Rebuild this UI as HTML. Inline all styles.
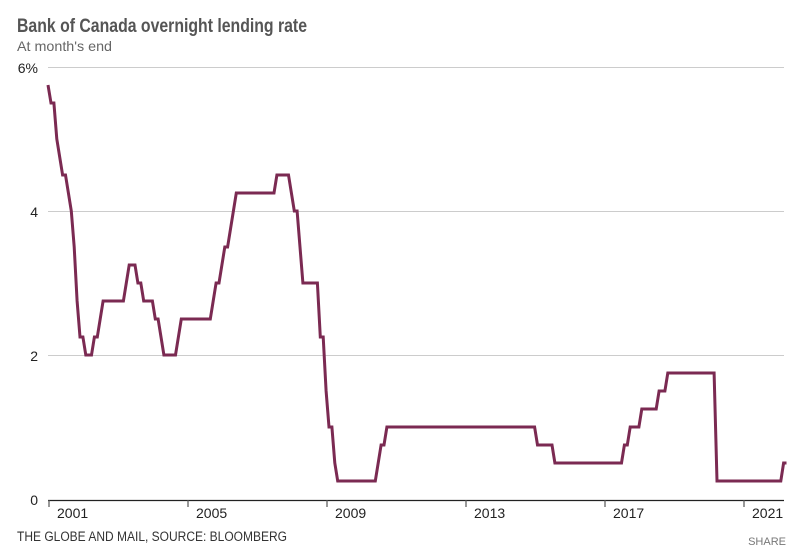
<!DOCTYPE html>
<html><head><meta charset="utf-8"><style>
body{margin:0;background:#fff;width:798px;height:554px;overflow:hidden;font-family:"Liberation Sans",sans-serif}
</style></head><body>
<svg id="c" width="798" height="554" xmlns="http://www.w3.org/2000/svg" font-family="Liberation Sans, sans-serif">
<text x="17" y="32" font-size="19" font-weight="bold" fill="#555" textLength="290" lengthAdjust="spacingAndGlyphs">Bank of Canada overnight lending rate</text>
<text x="17" y="51" font-size="14" fill="#666" textLength="95" lengthAdjust="spacingAndGlyphs">At month's end</text>
<g stroke="#ccc" stroke-width="1">
<line x1="48" y1="67.5" x2="784" y2="67.5"/><line x1="48" y1="211.5" x2="784" y2="211.5"/><line x1="48" y1="355.5" x2="784" y2="355.5"/>
</g>
<g font-size="14" fill="#222" text-anchor="end">
<text x="38" y="73">6%</text><text x="38" y="217">4</text><text x="38" y="361">2</text><text x="38" y="505">0</text>
</g>
<line x1="48" y1="500.5" x2="784" y2="500.5" stroke="#222" stroke-width="1.2"/>
<g id="ticks" stroke="#555" stroke-width="1.2"></g>
<g id="tl" font-size="14" fill="#222"></g>
<polyline id="p" fill="none" stroke="#7b2a52" stroke-width="3" stroke-linejoin="miter"/>
<text x="17" y="541" font-size="13.5" fill="#333" textLength="270" lengthAdjust="spacingAndGlyphs">THE GLOBE AND MAIL, SOURCE: BLOOMBERG</text>
<text x="786" y="545" font-size="11" fill="#777" text-anchor="end">SHARE</text>
</svg>
<script>
var X=function(t){return 49+(t-2001)*34.75},Y=function(v){return 499-72*v};
var ns="http://www.w3.org/2000/svg",tk=document.getElementById("ticks"),tl=document.getElementById("tl");
for(var y=2001;y<=2021;y+=4){var l=document.createElementNS(ns,"line");var x=X(y);l.setAttribute("x1",x);l.setAttribute("x2",x);l.setAttribute("y1",500);l.setAttribute("y2",507);tk.appendChild(l);
var t=document.createElementNS(ns,"text");t.setAttribute("x",x+8);t.setAttribute("y",518);t.textContent=y;tl.appendChild(t);}
var ch=[[2001.06,5.75],[2001.08,5.5],[2001.18,5.0],[2001.3,4.75],[2001.41,4.5],[2001.54,4.25],[2001.65,4.0],[2001.71,3.5],[2001.8,2.75],[2001.9,2.25],[2002.04,2.0],[2002.29,2.25],[2002.42,2.5],[2002.54,2.75],[2003.17,3.0],[2003.29,3.25],[2003.54,3.0],[2003.67,2.75],[2004.05,2.5],[2004.17,2.25],[2004.28,2.0],[2004.68,2.25],[2004.8,2.5],[2005.68,2.75],[2005.8,3.0],[2005.93,3.25],[2006.06,3.5],[2006.18,3.75],[2006.31,4.0],[2006.39,4.25],[2007.52,4.5],[2007.92,4.25],[2008.05,4.0],[2008.17,3.5],[2008.3,3.0],[2008.77,2.5],[2008.8,2.25],[2008.93,1.5],[2009.05,1.0],[2009.17,0.5],[2009.3,0.25],[2010.42,0.5],[2010.55,0.75],[2010.68,1.0],[2015.05,0.75],[2015.54,0.5],[2017.53,0.75],[2017.68,1.0],[2018.04,1.25],[2018.53,1.5],[2018.81,1.75],[2020.17,1.25],[2020.2,0.75],[2020.23,0.25],[2022.16,0.5]];
var pts=[(X(2001)-1).toFixed(1)+","+Y(5.75).toFixed(1)];
for(var m=0;m<=254;m++){var t=2001+m/12,end=t+1/12,v=5.75;for(var i=0;i<ch.length;i++){if(ch[i][0]<end)v=ch[i][1];}
pts.push((X(t)+2).toFixed(1)+","+Y(v).toFixed(1));}
document.getElementById("p").setAttribute("points",pts.join(" "));
</script>
</body></html>
